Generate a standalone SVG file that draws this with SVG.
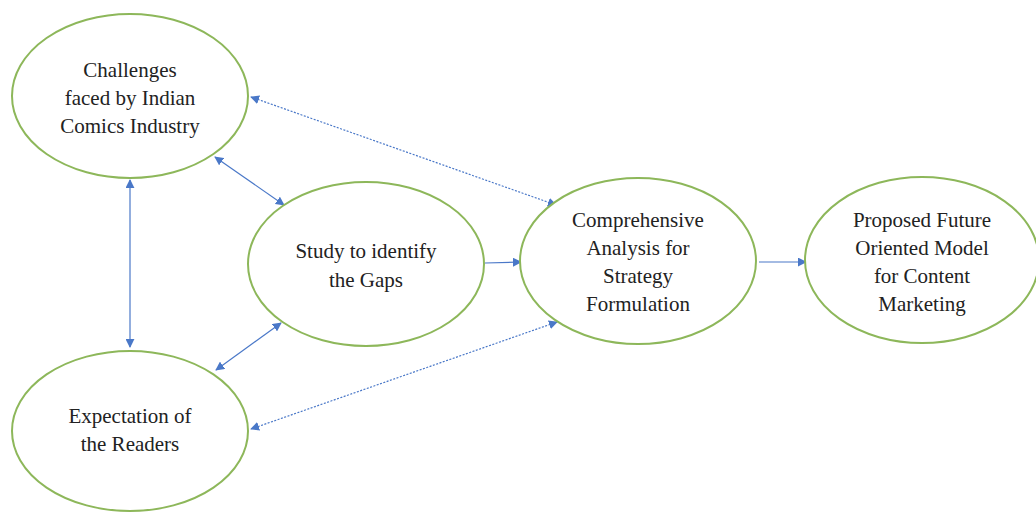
<svg xmlns="http://www.w3.org/2000/svg" width="1036" height="513" viewBox="0 0 1036 513">
<style>
.node ellipse{fill:#fff;stroke:#8db75a;stroke-width:2}
.node text{font-family:'Liberation Serif','Tinos','Times New Roman','DejaVu Serif',serif;font-size:21px;fill:#222;text-anchor:middle}
.c{stroke:#4a78c8;stroke-width:1.2;fill:none}
.d{stroke-dasharray:2 1.5}
</style>
<defs>
<marker id="ah" viewBox="0 0 10 10" refX="9" refY="5" markerWidth="9" markerHeight="9" markerUnits="userSpaceOnUse" orient="auto-start-reverse">
<path d="M0,0 L10,5 L0,10 z" fill="#4a78c8"/>
</marker>
</defs>
<rect width="1036" height="513" fill="#fff"/>
<g id="connectors">
<line class="c d" x1="251" y1="97" x2="556" y2="205" marker-start="url(#ah)" marker-end="url(#ah)"/>
<line class="c" x1="215" y1="157" x2="284" y2="205" marker-start="url(#ah)" marker-end="url(#ah)"/>
<line class="c" x1="130" y1="180" x2="130" y2="347" marker-start="url(#ah)" marker-end="url(#ah)"/>
<line class="c" x1="485" y1="263" x2="521" y2="262" marker-end="url(#ah)"/>
<line class="c" x1="281" y1="323" x2="216" y2="370" marker-start="url(#ah)" marker-end="url(#ah)"/>
<line class="c d" x1="557" y1="322" x2="251" y2="429" marker-start="url(#ah)" marker-end="url(#ah)"/>
<line class="c" x1="759" y1="262" x2="806" y2="262" marker-end="url(#ah)"/>
</g>
<g id="challenges" class="node" font-family="Liberation Serif, serif">
<ellipse cx="130" cy="96" rx="118" ry="82"/>
<text x="130" y="77">Challenges</text>
<text x="130" y="105">faced by Indian</text>
<text x="130" y="133">Comics Industry</text>
</g>
<g id="study" class="node">
<ellipse cx="366" cy="264" rx="118" ry="82"/>
<text x="366" y="258">Study to identify</text>
<text x="366" y="287">the Gaps</text>
</g>
<g id="expectation" class="node">
<ellipse cx="130" cy="431" rx="118" ry="80"/>
<text x="130" y="423">Expectation of</text>
<text x="130" y="451">the Readers</text>
</g>
<g id="comprehensive" class="node">
<ellipse cx="638" cy="261" rx="118" ry="83"/>
<text x="638" y="227">Comprehensive</text>
<text x="638" y="255">Analysis for</text>
<text x="638" y="283">Strategy</text>
<text x="638" y="311">Formulation</text>
</g>
<g id="proposed" class="node">
<ellipse cx="922" cy="260" rx="117" ry="83"/>
<text x="922" y="227">Proposed Future</text>
<text x="922" y="255">Oriented Model</text>
<text x="922" y="283">for Content</text>
<text x="922" y="311">Marketing</text>
</g>
</svg>
